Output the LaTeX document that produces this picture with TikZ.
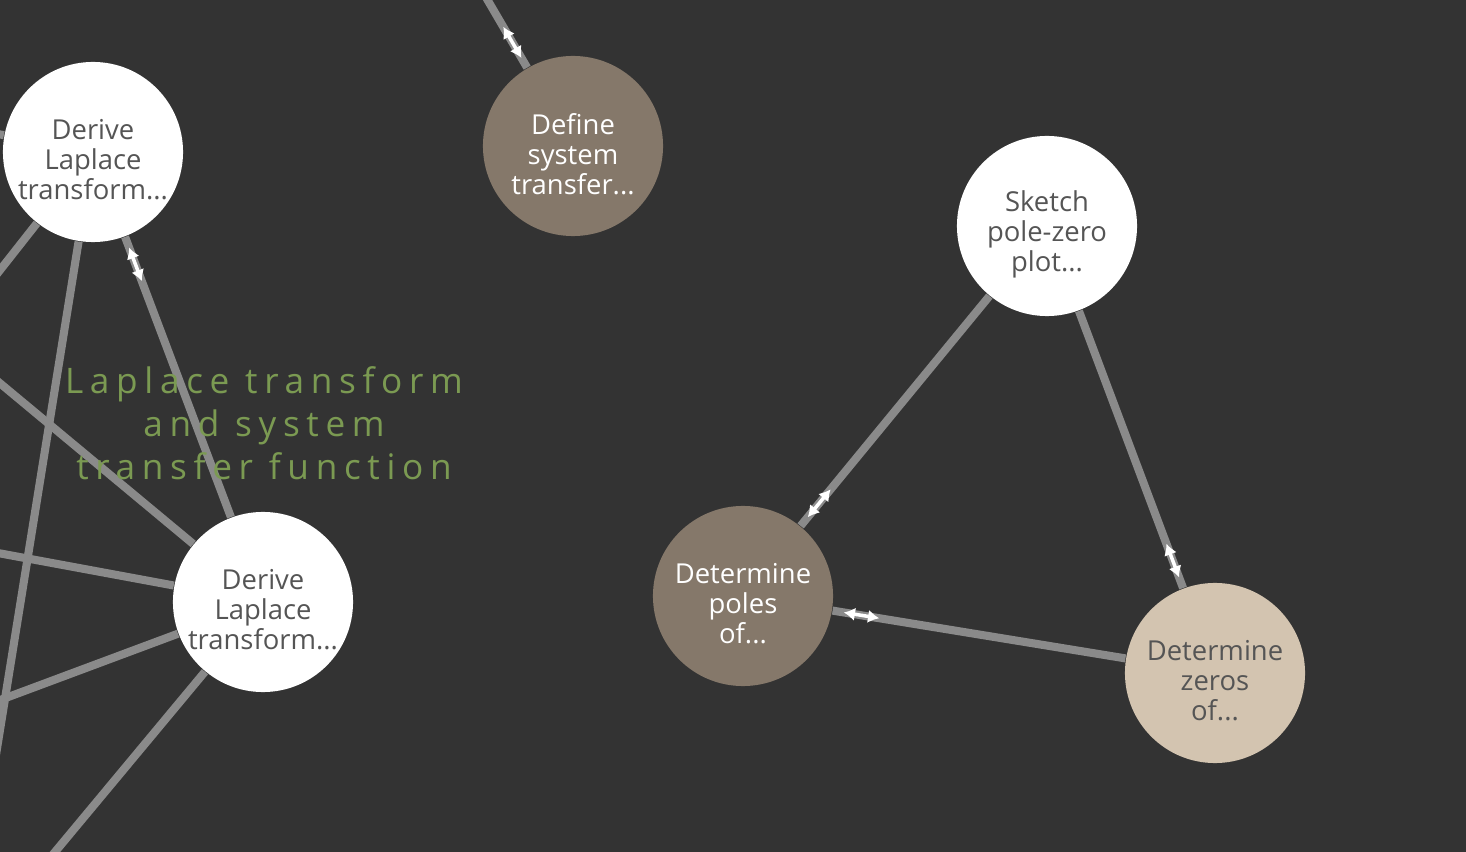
\documentclass[tikz,border=0pt]{standalone}
\usepackage{fontspec}
\setmainfont{Open Sans}
\newfontfamily\topicfont[LetterSpace=19]{Open Sans}
\usetikzlibrary{arrows.meta,calc}
\definecolor{bgdark}{HTML}{333333}
\definecolor{linkgray}{HTML}{8A8A8A}
\definecolor{darkbrown}{HTML}{85786A}
\definecolor{lighttan}{HTML}{D3C4B0}
\definecolor{nodetext}{HTML}{555555}
\definecolor{topicgreen}{HTML}{7B9A52}

\begin{document}
\begin{tikzpicture}[x=0.01cm,y=-0.01cm]
\clip (0,0) rectangle (1466,852);
\fill[bgdark] (0,0) rectangle (1466,852);

\begin{scope}[every node/.style={circle,minimum size=1.8cm,inner sep=0,align=center,font=\fontsize{7.8}{8.5}\selectfont},whitenode/.style={fill=white},brownnode/.style={fill=darkbrown},tannode/.style={fill=lighttan},darktext/.style={text=nodetext,yshift=-0.08cm},lighttext/.style={text=white,yshift=-0.08cm},link/.style={draw=linkgray,line width=2.3pt},twoway/.style={draw=white,line width=1pt,{Latex[length=3.2pt,width=3.8pt]}-{Latex[length=3.2pt,width=3.8pt]}},topic/.style={rectangle,minimum size=0pt,text=topicgreen,font=\topicfont\fontsize{10}{12.2}\selectfont}]
% Nodes
\node[whitenode,label={[darktext]center:Derive\\Laplace\\transform...}] (lapA) at (93,152) {};
\node[brownnode,label={[lighttext]center:Define\\system\\transfer...}] (tf) at (573,146) {};
\node[whitenode,label={[darktext]center:Sketch\\pole-zero\\plot...}] (pz) at (1047,226) {};
\node[whitenode,label={[darktext]center:Derive\\Laplace\\transform...}] (lapB) at (263,602) {};
\node[brownnode,label={[lighttext]center:Determine\\poles\\of...}] (poles) at (743,596) {};
\node[tannode,label={[darktext]center:Determine\\zeros\\of...}] (zeros) at (1215,673) {};

% ends outside the frame
\coordinate (outTop) at (470,-30);
\coordinate (outA1) at (-50,125);
\coordinate (outA2) at (-40,321);
\coordinate (outA3) at (-10,792);
\coordinate (outB1) at (-40,350);
\coordinate (outB2) at (-40,546);
\coordinate (outB3) at (-40,715);
\coordinate (outB4) at (30,882);

%arcs
\path (outTop) edge[link] (tf);
\path (lapA) edge[link] (outA1);
\path (lapA) edge[link] (outA2);
\path (lapA) edge[link] (outA3);
\path (lapA) edge[link] (lapB);
\path (lapB) edge[link] (outB1);
\path (lapB) edge[link] (outB2);
\path (lapB) edge[link] (outB3);
\path (lapB) edge[link] (outB4);
\path (pz) edge[link] (poles);
\path (pz) edge[link] (zeros);
\path (poles) edge[link] (zeros);

% two-way marks
\path ($(tf)!1.02cm!(outTop)$) edge[twoway] ($(tf)!1.38cm!(outTop)$);
\path ($(lapA)!1.02cm!(lapB)$) edge[twoway] ($(lapA)!1.38cm!(lapB)$);
\path ($(poles)!1.02cm!(pz)$) edge[twoway] ($(poles)!1.38cm!(pz)$);
\path ($(poles)!1.02cm!(zeros)$) edge[twoway] ($(poles)!1.38cm!(zeros)$);
\path ($(zeros)!1.02cm!(pz)$) edge[twoway] ($(zeros)!1.38cm!(pz)$);

\node[topic] (title) at (264,423) {Laplace transform\\and system\\transfer function};
\end{scope}

\end{tikzpicture}
\end{document}
